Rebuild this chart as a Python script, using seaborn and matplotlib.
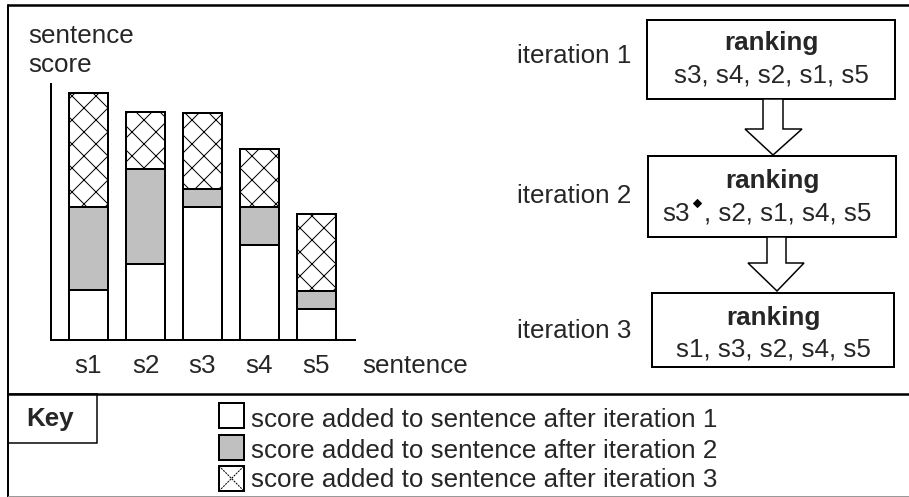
import numpy as np
import pandas as pd
import matplotlib
matplotlib.use("Agg")
import matplotlib.pyplot as plt
from matplotlib.patches import Rectangle, Polygon
import seaborn as sns

# ---------------- data ----------------
sentences = ["s1", "s2", "s3", "s4", "s5"]
score_iter1 = [50, 76, 133, 95, 31]
score_iter2 = [83, 95, 18, 38, 18]
score_iter3 = [114, 57, 76, 58, 77]

iteration_labels = ["iteration 1", "iteration 2", "iteration 3"]
ranking_title = "ranking"
ranking_iter1 = "s3, s4, s2, s1, s5"
ranking_iter2_head = "s3"
ranking_iter2_tail = ", s2, s1, s4, s5"
ranking_iter3 = "s1, s3, s2, s4, s5"

key_title = "Key"
key_labels = ["score added to sentence after iteration 1",
              "score added to sentence after iteration 2",
              "score added to sentence after iteration 3"]

# ---------------- style ----------------
sns.set_style("white")
plt.rcParams["font.family"] = ["Liberation Sans", "DejaVu Sans"]
plt.rcParams["hatch.linewidth"] = 1.0

W, H, DPI = 909, 497, 72
fig = plt.figure(figsize=(W / DPI, H / DPI), dpi=DPI)
FS = 26
GRAY = "#c0c0c0"

# ---------------- bar chart ----------------
ax_left, ax_right, ax_top, ax_bottom = 51, 355, 84, 340
ax = fig.add_axes([ax_left / W, 1 - ax_bottom / H,
                   (ax_right - ax_left) / W, (ax_bottom - ax_top) / H])

w1 = np.array(score_iter1)
c2 = w1 + np.array(score_iter2)
c3 = c2 + np.array(score_iter3)
df = pd.DataFrame({"sentence": sentences, "c1": w1, "c2": c2, "c3": c3})

bar_w = 0.684
sns.barplot(data=df, x="sentence", y="c3", color="white", edgecolor="black",
            linewidth=2, hatch="x", width=bar_w, saturation=1,
            errorbar=None, ax=ax)
sns.barplot(data=df, x="sentence", y="c2", color=GRAY, edgecolor="black",
            linewidth=2, width=bar_w, saturation=1, errorbar=None, ax=ax)
sns.barplot(data=df, x="sentence", y="c1", color="white", edgecolor="black",
            linewidth=2, width=bar_w, saturation=1, errorbar=None, ax=ax)

ax.set_xlim(-0.658, 4.675)
ax.set_ylim(0, ax_bottom - ax_top)
ax.set_xlabel("")
ax.set_ylabel("")
ax.set_yticks([])
ax.tick_params(axis="x", length=0, pad=33, labelsize=FS)
for lab in ax.get_xticklabels():
    lab.set_verticalalignment("baseline")
for s in ["top", "right"]:
    ax.spines[s].set_visible(False)
for s in ["left", "bottom"]:
    ax.spines[s].set_linewidth(2)
    ax.spines[s].set_color("black")
ax.patch.set_alpha(0)

# ---------------- overlay for diagram / key ----------------
ov = fig.add_axes([0, 0, 1, 1], zorder=-1)
ov.set_xlim(0, W)
ov.set_ylim(H, 0)
ov.axis("off")

# frame lines
ov.plot([8, W], [5, 5], color="black", lw=2.5)
ov.plot([8, 8], [5, H], color="black", lw=2)
ov.plot([8, W], [394, 394], color="black", lw=2.5)
ov.plot([8, W], [496, 496], color="#999999", lw=1)

# axis titles
ov.text(28, 43, "sentence", fontsize=FS, va="baseline", ha="left")
ov.text(28, 72, "score", fontsize=FS, va="baseline", ha="left")
ov.text(362, 373, "sentence", fontsize=FS, va="baseline", ha="left")

# ranking boxes
boxes = [(647, 20, 895, 99), (648, 156, 896, 237), (652, 293, 894, 367)]
it_base = [63, 203, 338]
title_base = [50, 188, 325]
list_base = [82, 221, 357]
for (x0, y0, x1, y1), lab, yb in zip(boxes, iteration_labels, it_base):
    ov.add_patch(Rectangle((x0, y0), x1 - x0, y1 - y0, facecolor="white",
                           edgecolor="black", lw=2))
    ov.text(517, yb, lab, fontsize=FS, va="baseline", ha="left")
for (x0, y0, x1, y1), yb in zip(boxes, title_base):
    ov.text((x0 + x1) / 2, yb, ranking_title, fontsize=FS, fontweight="bold",
            va="baseline", ha="center")
ov.text((boxes[0][0] + boxes[0][2]) / 2, list_base[0], ranking_iter1,
        fontsize=FS, va="baseline", ha="center")
ov.text((boxes[2][0] + boxes[2][2]) / 2, list_base[2], ranking_iter3,
        fontsize=FS, va="baseline", ha="center")
ov.text(662, list_base[1], ranking_iter2_head, fontsize=FS, va="baseline", ha="left")
ov.plot([697], [203], marker="D", markersize=5, color="black")
ov.text(704, list_base[1], ranking_iter2_tail, fontsize=FS, va="baseline", ha="left")

# arrows
arrows = [
    [(763, 99), (783, 99), (783, 129), (802, 129), (773, 155), (745, 129), (763, 129)],
    [(767, 237), (786, 237), (786, 263), (804, 263), (777, 291), (748, 263), (767, 263)],
]
for pts in arrows:
    ov.add_patch(Polygon(pts, closed=True, facecolor="white", edgecolor="black",
                         lw=1.5, joinstyle="miter"))

# key
ov.add_patch(Rectangle((8, 394), 89, 49, facecolor="white", edgecolor="black", lw=1.5))
ov.text(50, 426, key_title, fontsize=FS, fontweight="bold", va="baseline", ha="center")
sq_tops = [403, 435, 466]
key_base = [427, 458, 487]
fills = ["white", GRAY, "white"]
for top, yb, lab, fc in zip(sq_tops, key_base, key_labels, fills):
    ov.add_patch(Rectangle((219, top), 25, 25, facecolor=fc, edgecolor="black", lw=2))
    ov.text(251, yb, lab, fontsize=FS, va="baseline", ha="left")
t = sq_tops[2]
ov.plot([219, 244], [t, t + 25], color="black", lw=1, ls=(0, (2, 1)))
ov.plot([219, 244], [t + 25, t], color="black", lw=1, ls=(0, (2, 1)))

fig.savefig("out.png", dpi=DPI, facecolor="white")
